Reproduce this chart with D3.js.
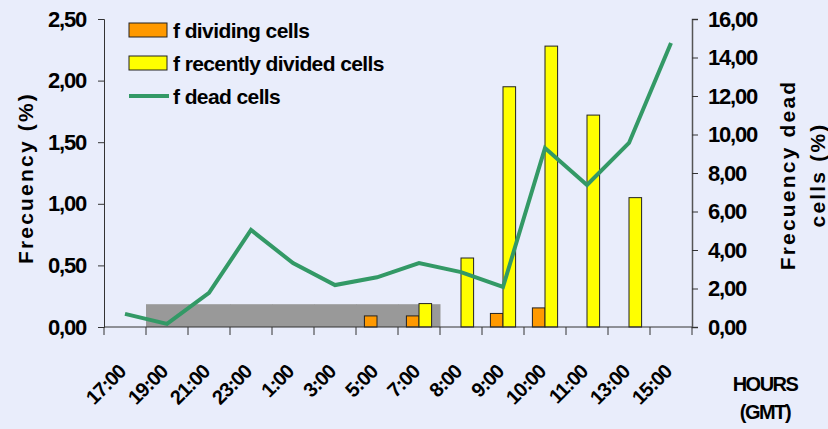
<!DOCTYPE html>
<html>
<head>
<meta charset="utf-8">
<script src="https://cdn.jsdelivr.net/npm/d3@7"></script>
<style>
  body { margin: 0; background: #e9edfb; }
  svg { display: block; }
  text { font-family: "Liberation Sans", Arial, sans-serif; font-weight: bold; fill: #000; }
</style>
</head>
<body>
<svg width="828" height="429"></svg>
<script>
var hours = ["17:00", "19:00", "21:00", "23:00", "1:00", "3:00", "5:00", "7:00", "8:00", "9:00", "10:00", "11:00", "13:00", "15:00"];

// left axis (%)
var dividing = [0, 0, 0, 0, 0, 0, 0.09, 0.09, 0, 0.11, 0.155, 0, 0, 0];
var recentlyDivided = [0, 0, 0, 0, 0, 0, 0, 0.19, 0.56, 1.95, 2.28, 1.72, 1.05, 0];
// grey night band, left axis
var nightBand = [0, 0.185, 0.185, 0.185, 0.185, 0.185, 0.185, 0.185, 0, 0, 0, 0, 0, 0];
// right axis (%)
var dead = [0.68, 0.16, 1.77, 5.04, 3.32, 2.18, 2.58, 3.32, 2.85, 2.08, 9.3, 7.38, 9.56, 14.75];

var leftTicks = [0, 0.5, 1, 1.5, 2, 2.5];
var rightTicks = [0, 2, 4, 6, 8, 10, 12, 14, 16];

var svg = d3.select("svg"),
    margin = {top: 19, right: 136, bottom: 102, left: 104},
    width = +svg.attr("width") - margin.left - margin.right,
    height = +svg.attr("height") - margin.top - margin.bottom,
    g = svg.append("g").attr("transform", "translate(" + margin.left + "," + margin.top + ")");

var fmt = function(d) { return d3.format(".2f")(d).replace(".", ","); };

var x = d3.scaleBand().domain(hours).range([0, width]).padding(0);
var y = d3.scaleLinear().domain([0, 2.5]).range([height, 0]);
var y2 = d3.scaleLinear().domain([0, 16]).range([height, 0]);

var bw = x.bandwidth() * 0.3;

function pairs(arr) {
  return hours.map(function(h, i) { return {h: h, v: arr[i]}; })
    .filter(function(d) { return d.v > 0; });
}

// night band
g.selectAll(".night")
  .data(pairs(nightBand))
  .enter().append("rect")
    .attr("x", function(d) { return x(d.h); })
    .attr("width", x.bandwidth() + 0.5)
    .attr("y", function(d) { return y(d.v); })
    .attr("height", function(d) { return height - y(d.v); })
    .attr("fill", "#999999");

g.selectAll(".div")
  .data(pairs(dividing))
  .enter().append("rect")
    .attr("x", function(d) { return x(d.h) + x.bandwidth() / 2 - bw; })
    .attr("width", bw)
    .attr("y", function(d) { return y(d.v); })
    .attr("height", function(d) { return height - y(d.v); })
    .attr("fill", "#ff9900")
    .attr("stroke", "#222")
    .attr("stroke-width", 1);

g.selectAll(".rec")
  .data(pairs(recentlyDivided))
  .enter().append("rect")
    .attr("x", function(d) { return x(d.h) + x.bandwidth() / 2; })
    .attr("width", bw)
    .attr("y", function(d) { return y(d.v); })
    .attr("height", function(d) { return height - y(d.v); })
    .attr("fill", "#ffff00")
    .attr("stroke", "#222")
    .attr("stroke-width", 1);

var line = d3.line()
    .x(function(d, i) { return x(hours[i]) + x.bandwidth() / 2; })
    .y(function(d) { return y2(d); });

g.append("path")
  .datum(dead)
  .attr("fill", "none")
  .attr("stroke", "#339966")
  .attr("stroke-width", 4)
  .attr("stroke-linejoin", "miter")
  .attr("d", line);

// axes
var yAxis = g.append("g")
  .call(d3.axisLeft(y).tickValues(leftTicks).tickFormat(fmt).tickSize(6).tickPadding(12));
var y2Axis = g.append("g")
  .attr("transform", "translate(" + width + ",0)")
  .call(d3.axisRight(y2).tickValues(rightTicks).tickFormat(fmt).tickSize(6).tickPadding(10));

[yAxis, y2Axis].forEach(function(a) {
  a.select(".domain").attr("stroke", "#333");
  a.selectAll(".tick line").attr("stroke", "#333");
  a.selectAll("text").style("font-size", "22px").style("letter-spacing", "-1.2px")
    .attr("fill", "#000");
});
y2Axis.select(".domain").attr("stroke", "#555").attr("stroke-width", 1.5);

// bottom axis: ticks at category boundaries
var bottom = g.append("g").attr("transform", "translate(0," + height + ")");
bottom.append("line").attr("x1", 0).attr("x2", width).attr("stroke", "#333");
var bounds = hours.map(function(h) { return x(h); }).concat([width]);
bottom.selectAll(".bt")
  .data(bounds)
  .enter().append("line")
    .attr("x1", function(d) { return d; })
    .attr("x2", function(d) { return d; })
    .attr("y1", 0).attr("y2", 8)
    .attr("stroke", "#333");
bottom.selectAll(".bl")
  .data(hours)
  .enter().append("text")
    .attr("text-anchor", "end")
    .attr("transform", function(d) {
      return "translate(" + (x(d) + x.bandwidth() / 2 + 2) + ",46) rotate(-45)";
    })
    .style("font-size", "20px")
    .style("letter-spacing", "-1px")
    .text(function(d) { return d; });

// titles
svg.append("text")
  .attr("transform", "translate(33,178) rotate(-90)")
  .attr("text-anchor", "middle")
  .style("font-size", "21px")
  .style("letter-spacing", "2.2px")
  .text("Frecuency (%)");

svg.append("text")
  .attr("transform", "translate(795,175) rotate(-90)")
  .attr("text-anchor", "middle")
  .style("font-size", "21px")
  .style("letter-spacing", "2.2px")
  .text("Frecuency dead");
svg.append("text")
  .attr("transform", "translate(825,175) rotate(-90)")
  .attr("text-anchor", "middle")
  .style("font-size", "21px")
  .style("letter-spacing", "2.2px")
  .text("cells (%)");

svg.append("text")
  .attr("x", 765).attr("y", 391)
  .attr("text-anchor", "middle")
  .style("font-size", "20px")
  .style("letter-spacing", "-1.5px")
  .text("HOURS");
svg.append("text")
  .attr("x", 765).attr("y", 419)
  .attr("text-anchor", "middle")
  .style("font-size", "20px")
  .style("letter-spacing", "-1.5px")
  .text("(GMT)");

// legend
var legend = svg.append("g").attr("transform", "translate(129,23)");
var items = [
  {label: "f dividing cells", type: "rect", color: "#ff9900"},
  {label: "f recently divided cells", type: "rect", color: "#ffff00"},
  {label: "f dead cells", type: "line", color: "#339966"}
];
items.forEach(function(it, i) {
  var row = legend.append("g").attr("transform", "translate(0," + (i * 33) + ")");
  if (it.type === "rect") {
    row.append("rect").attr("x", 0).attr("y", 0).attr("width", 38).attr("height", 14)
      .attr("fill", it.color).attr("stroke", "#222");
  } else {
    row.append("line").attr("x1", 0).attr("x2", 40).attr("y1", 7).attr("y2", 7)
      .attr("stroke", it.color).attr("stroke-width", 4);
  }
  row.append("text").attr("x", 44).attr("y", 15)
    .style("font-size", "21px")
    .style("letter-spacing", "-0.6px")
    .text(it.label);
});
</script>
</body>
</html>
